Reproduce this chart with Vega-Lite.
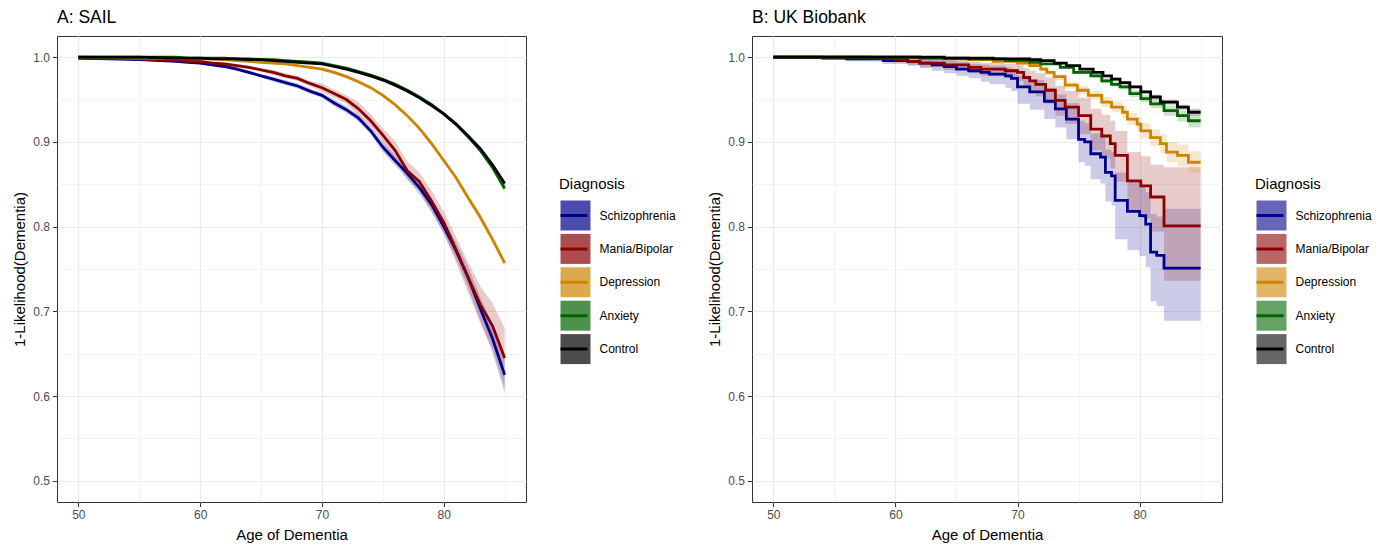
{
  "$schema": "https://vega.github.io/schema/vega-lite/v6.json",
  "background": "white",
  "padding": {"left": 12, "top": 8, "right": 0, "bottom": 0},
  "spacing": 30,
  "config": {
    "font": "Liberation Sans",
    "view": {"stroke": "#333333", "strokeWidth": 1},
    "axis": {"domain": false, "gridColor": "#ebebeb", "tickColor": "#333333", "tickSize": 4.5, "labelColor": "#4d4d4d", "labelFontSize": 12, "labelPadding": 3, "titleFontSize": 15, "titleFontWeight": "normal", "titleColor": "#000000", "titlePadding": 5},
    "axisX": {"titlePadding": 7},
    "legend": {"titleFontSize": 15, "titleFontWeight": "normal", "titleColor": "#000000", "labelFontSize": 12, "labelColor": "#000000", "labelOffset": 10.5, "rowPadding": 0.4, "titlePadding": 7, "padding": 0, "labelLimit": 300, "clipHeight": 33},
    "title": {"fontSize": 17.5, "fontWeight": "normal", "anchor": "start", "frame": "group", "offset": 10, "color": "#000000"}
  },
  "resolve": {"scale": {"x": "independent", "y": "independent", "fill": "independent", "stroke": "independent"}},
  "datasets": {
    "sail": [
      {"age":50,"dx":"Schizophrenia","surv":0.999,"lo":0.998,"hi":1.000},
      {"age":55,"dx":"Schizophrenia","surv":0.997,"lo":0.996,"hi":0.998},
      {"age":58,"dx":"Schizophrenia","surv":0.995,"lo":0.994,"hi":0.996},
      {"age":59,"dx":"Schizophrenia","surv":0.994,"lo":0.993,"hi":0.995},
      {"age":60,"dx":"Schizophrenia","surv":0.993,"lo":0.992,"hi":0.994},
      {"age":61,"dx":"Schizophrenia","surv":0.991,"lo":0.989,"hi":0.993},
      {"age":62,"dx":"Schizophrenia","surv":0.989,"lo":0.987,"hi":0.991},
      {"age":63,"dx":"Schizophrenia","surv":0.986,"lo":0.984,"hi":0.988},
      {"age":64,"dx":"Schizophrenia","surv":0.982,"lo":0.980,"hi":0.984},
      {"age":65,"dx":"Schizophrenia","surv":0.978,"lo":0.976,"hi":0.980},
      {"age":66,"dx":"Schizophrenia","surv":0.974,"lo":0.971,"hi":0.977},
      {"age":67,"dx":"Schizophrenia","surv":0.970,"lo":0.967,"hi":0.973},
      {"age":68,"dx":"Schizophrenia","surv":0.966,"lo":0.963,"hi":0.969},
      {"age":69,"dx":"Schizophrenia","surv":0.960,"lo":0.957,"hi":0.963},
      {"age":70,"dx":"Schizophrenia","surv":0.955,"lo":0.952,"hi":0.958},
      {"age":71,"dx":"Schizophrenia","surv":0.946,"lo":0.942,"hi":0.950},
      {"age":72,"dx":"Schizophrenia","surv":0.938,"lo":0.934,"hi":0.942},
      {"age":73,"dx":"Schizophrenia","surv":0.928,"lo":0.924,"hi":0.932},
      {"age":74,"dx":"Schizophrenia","surv":0.913,"lo":0.909,"hi":0.917},
      {"age":75,"dx":"Schizophrenia","surv":0.894,"lo":0.888,"hi":0.900},
      {"age":76,"dx":"Schizophrenia","surv":0.878,"lo":0.872,"hi":0.884},
      {"age":77,"dx":"Schizophrenia","surv":0.863,"lo":0.857,"hi":0.869},
      {"age":78,"dx":"Schizophrenia","surv":0.846,"lo":0.838,"hi":0.854},
      {"age":79,"dx":"Schizophrenia","surv":0.826,"lo":0.818,"hi":0.834},
      {"age":80,"dx":"Schizophrenia","surv":0.800,"lo":0.792,"hi":0.808},
      {"age":81,"dx":"Schizophrenia","surv":0.772,"lo":0.762,"hi":0.782},
      {"age":82,"dx":"Schizophrenia","surv":0.740,"lo":0.728,"hi":0.752},
      {"age":83,"dx":"Schizophrenia","surv":0.703,"lo":0.689,"hi":0.717},
      {"age":84,"dx":"Schizophrenia","surv":0.668,"lo":0.651,"hi":0.685},
      {"age":85,"dx":"Schizophrenia","surv":0.625,"lo":0.604,"hi":0.646},

      {"age":50,"dx":"Mania/Bipolar","surv":0.999,"lo":0.998,"hi":1.000},
      {"age":55,"dx":"Mania/Bipolar","surv":0.998,"lo":0.997,"hi":0.999},
      {"age":58,"dx":"Mania/Bipolar","surv":0.996,"lo":0.995,"hi":0.997},
      {"age":59,"dx":"Mania/Bipolar","surv":0.995,"lo":0.994,"hi":0.996},
      {"age":60,"dx":"Mania/Bipolar","surv":0.995,"lo":0.994,"hi":0.996},
      {"age":61,"dx":"Mania/Bipolar","surv":0.993,"lo":0.991,"hi":0.995},
      {"age":62,"dx":"Mania/Bipolar","surv":0.992,"lo":0.990,"hi":0.994},
      {"age":63,"dx":"Mania/Bipolar","surv":0.990,"lo":0.988,"hi":0.992},
      {"age":64,"dx":"Mania/Bipolar","surv":0.988,"lo":0.986,"hi":0.990},
      {"age":65,"dx":"Mania/Bipolar","surv":0.985,"lo":0.983,"hi":0.987},
      {"age":66,"dx":"Mania/Bipolar","surv":0.982,"lo":0.979,"hi":0.985},
      {"age":67,"dx":"Mania/Bipolar","surv":0.978,"lo":0.975,"hi":0.981},
      {"age":68,"dx":"Mania/Bipolar","surv":0.975,"lo":0.972,"hi":0.978},
      {"age":69,"dx":"Mania/Bipolar","surv":0.969,"lo":0.966,"hi":0.972},
      {"age":70,"dx":"Mania/Bipolar","surv":0.964,"lo":0.959,"hi":0.969},
      {"age":71,"dx":"Mania/Bipolar","surv":0.957,"lo":0.952,"hi":0.962},
      {"age":72,"dx":"Mania/Bipolar","surv":0.950,"lo":0.945,"hi":0.955},
      {"age":73,"dx":"Mania/Bipolar","surv":0.939,"lo":0.931,"hi":0.947},
      {"age":74,"dx":"Mania/Bipolar","surv":0.925,"lo":0.917,"hi":0.933},
      {"age":75,"dx":"Mania/Bipolar","surv":0.908,"lo":0.900,"hi":0.916},
      {"age":76,"dx":"Mania/Bipolar","surv":0.890,"lo":0.879,"hi":0.901},
      {"age":77,"dx":"Mania/Bipolar","surv":0.866,"lo":0.855,"hi":0.877},
      {"age":78,"dx":"Mania/Bipolar","surv":0.853,"lo":0.842,"hi":0.864},
      {"age":79,"dx":"Mania/Bipolar","surv":0.830,"lo":0.817,"hi":0.843},
      {"age":80,"dx":"Mania/Bipolar","surv":0.805,"lo":0.792,"hi":0.818},
      {"age":81,"dx":"Mania/Bipolar","surv":0.773,"lo":0.758,"hi":0.788},
      {"age":82,"dx":"Mania/Bipolar","surv":0.740,"lo":0.722,"hi":0.758},
      {"age":83,"dx":"Mania/Bipolar","surv":0.708,"lo":0.686,"hi":0.730},
      {"age":84,"dx":"Mania/Bipolar","surv":0.683,"lo":0.656,"hi":0.710},
      {"age":85,"dx":"Mania/Bipolar","surv":0.645,"lo":0.610,"hi":0.680},

      {"age":50,"dx":"Depression","surv":1.000,"lo":0.999,"hi":1.000},
      {"age":55,"dx":"Depression","surv":0.999,"lo":0.998,"hi":1.000},
      {"age":58,"dx":"Depression","surv":0.999,"lo":0.998,"hi":1.000},
      {"age":59,"dx":"Depression","surv":0.998,"lo":0.997,"hi":0.999},
      {"age":60,"dx":"Depression","surv":0.998,"lo":0.997,"hi":0.999},
      {"age":61,"dx":"Depression","surv":0.998,"lo":0.997,"hi":0.999},
      {"age":62,"dx":"Depression","surv":0.997,"lo":0.996,"hi":0.998},
      {"age":63,"dx":"Depression","surv":0.996,"lo":0.995,"hi":0.997},
      {"age":64,"dx":"Depression","surv":0.995,"lo":0.994,"hi":0.996},
      {"age":65,"dx":"Depression","surv":0.994,"lo":0.993,"hi":0.995},
      {"age":66,"dx":"Depression","surv":0.993,"lo":0.992,"hi":0.994},
      {"age":67,"dx":"Depression","surv":0.992,"lo":0.991,"hi":0.993},
      {"age":68,"dx":"Depression","surv":0.990,"lo":0.989,"hi":0.991},
      {"age":69,"dx":"Depression","surv":0.988,"lo":0.987,"hi":0.989},
      {"age":70,"dx":"Depression","surv":0.986,"lo":0.984,"hi":0.988},
      {"age":71,"dx":"Depression","surv":0.982,"lo":0.980,"hi":0.984},
      {"age":72,"dx":"Depression","surv":0.977,"lo":0.975,"hi":0.979},
      {"age":73,"dx":"Depression","surv":0.971,"lo":0.969,"hi":0.973},
      {"age":74,"dx":"Depression","surv":0.964,"lo":0.962,"hi":0.966},
      {"age":75,"dx":"Depression","surv":0.955,"lo":0.953,"hi":0.957},
      {"age":76,"dx":"Depression","surv":0.944,"lo":0.942,"hi":0.946},
      {"age":77,"dx":"Depression","surv":0.931,"lo":0.929,"hi":0.933},
      {"age":78,"dx":"Depression","surv":0.916,"lo":0.914,"hi":0.918},
      {"age":79,"dx":"Depression","surv":0.898,"lo":0.895,"hi":0.901},
      {"age":80,"dx":"Depression","surv":0.878,"lo":0.875,"hi":0.881},
      {"age":81,"dx":"Depression","surv":0.858,"lo":0.855,"hi":0.861},
      {"age":82,"dx":"Depression","surv":0.834,"lo":0.831,"hi":0.837},
      {"age":83,"dx":"Depression","surv":0.811,"lo":0.807,"hi":0.815},
      {"age":84,"dx":"Depression","surv":0.785,"lo":0.781,"hi":0.789},
      {"age":85,"dx":"Depression","surv":0.757,"lo":0.753,"hi":0.761},

      {"age":50,"dx":"Anxiety","surv":1.000,"lo":0.999,"hi":1.000},
      {"age":55,"dx":"Anxiety","surv":1.000,"lo":0.999,"hi":1.000},
      {"age":58,"dx":"Anxiety","surv":1.000,"lo":0.999,"hi":1.000},
      {"age":59,"dx":"Anxiety","surv":0.999,"lo":0.998,"hi":1.000},
      {"age":60,"dx":"Anxiety","surv":0.999,"lo":0.998,"hi":1.000},
      {"age":61,"dx":"Anxiety","surv":0.999,"lo":0.998,"hi":1.000},
      {"age":62,"dx":"Anxiety","surv":0.999,"lo":0.998,"hi":1.000},
      {"age":63,"dx":"Anxiety","surv":0.998,"lo":0.997,"hi":0.999},
      {"age":64,"dx":"Anxiety","surv":0.998,"lo":0.997,"hi":0.999},
      {"age":65,"dx":"Anxiety","surv":0.997,"lo":0.996,"hi":0.998},
      {"age":66,"dx":"Anxiety","surv":0.997,"lo":0.996,"hi":0.998},
      {"age":67,"dx":"Anxiety","surv":0.996,"lo":0.995,"hi":0.997},
      {"age":68,"dx":"Anxiety","surv":0.995,"lo":0.994,"hi":0.996},
      {"age":69,"dx":"Anxiety","surv":0.994,"lo":0.993,"hi":0.995},
      {"age":70,"dx":"Anxiety","surv":0.993,"lo":0.992,"hi":0.994},
      {"age":71,"dx":"Anxiety","surv":0.990,"lo":0.989,"hi":0.991},
      {"age":72,"dx":"Anxiety","surv":0.987,"lo":0.986,"hi":0.988},
      {"age":73,"dx":"Anxiety","surv":0.983,"lo":0.982,"hi":0.984},
      {"age":74,"dx":"Anxiety","surv":0.979,"lo":0.978,"hi":0.980},
      {"age":75,"dx":"Anxiety","surv":0.974,"lo":0.973,"hi":0.975},
      {"age":76,"dx":"Anxiety","surv":0.968,"lo":0.966,"hi":0.970},
      {"age":77,"dx":"Anxiety","surv":0.961,"lo":0.959,"hi":0.963},
      {"age":78,"dx":"Anxiety","surv":0.953,"lo":0.951,"hi":0.955},
      {"age":79,"dx":"Anxiety","surv":0.944,"lo":0.942,"hi":0.946},
      {"age":80,"dx":"Anxiety","surv":0.933,"lo":0.931,"hi":0.935},
      {"age":81,"dx":"Anxiety","surv":0.921,"lo":0.918,"hi":0.924},
      {"age":82,"dx":"Anxiety","surv":0.906,"lo":0.903,"hi":0.909},
      {"age":83,"dx":"Anxiety","surv":0.890,"lo":0.887,"hi":0.893},
      {"age":84,"dx":"Anxiety","surv":0.870,"lo":0.866,"hi":0.874},
      {"age":85,"dx":"Anxiety","surv":0.845,"lo":0.840,"hi":0.850},

      {"age":50,"dx":"Control","surv":1.000,"lo":0.999,"hi":1.000},
      {"age":55,"dx":"Control","surv":1.000,"lo":0.999,"hi":1.000},
      {"age":58,"dx":"Control","surv":0.999,"lo":0.998,"hi":1.000},
      {"age":59,"dx":"Control","surv":0.999,"lo":0.998,"hi":1.000},
      {"age":60,"dx":"Control","surv":0.999,"lo":0.998,"hi":1.000},
      {"age":61,"dx":"Control","surv":0.998,"lo":0.997,"hi":0.999},
      {"age":62,"dx":"Control","surv":0.998,"lo":0.997,"hi":0.999},
      {"age":63,"dx":"Control","surv":0.998,"lo":0.997,"hi":0.999},
      {"age":64,"dx":"Control","surv":0.997,"lo":0.996,"hi":0.998},
      {"age":65,"dx":"Control","surv":0.997,"lo":0.996,"hi":0.998},
      {"age":66,"dx":"Control","surv":0.996,"lo":0.995,"hi":0.997},
      {"age":67,"dx":"Control","surv":0.995,"lo":0.994,"hi":0.996},
      {"age":68,"dx":"Control","surv":0.994,"lo":0.993,"hi":0.995},
      {"age":69,"dx":"Control","surv":0.993,"lo":0.992,"hi":0.994},
      {"age":70,"dx":"Control","surv":0.992,"lo":0.991,"hi":0.993},
      {"age":71,"dx":"Control","surv":0.989,"lo":0.988,"hi":0.990},
      {"age":72,"dx":"Control","surv":0.986,"lo":0.985,"hi":0.987},
      {"age":73,"dx":"Control","surv":0.982,"lo":0.981,"hi":0.983},
      {"age":74,"dx":"Control","surv":0.978,"lo":0.977,"hi":0.979},
      {"age":75,"dx":"Control","surv":0.973,"lo":0.972,"hi":0.974},
      {"age":76,"dx":"Control","surv":0.967,"lo":0.966,"hi":0.968},
      {"age":77,"dx":"Control","surv":0.960,"lo":0.959,"hi":0.961},
      {"age":78,"dx":"Control","surv":0.952,"lo":0.951,"hi":0.953},
      {"age":79,"dx":"Control","surv":0.943,"lo":0.942,"hi":0.944},
      {"age":80,"dx":"Control","surv":0.933,"lo":0.932,"hi":0.934},
      {"age":81,"dx":"Control","surv":0.921,"lo":0.919,"hi":0.923},
      {"age":82,"dx":"Control","surv":0.907,"lo":0.905,"hi":0.909},
      {"age":83,"dx":"Control","surv":0.892,"lo":0.890,"hi":0.894},
      {"age":84,"dx":"Control","surv":0.873,"lo":0.871,"hi":0.875},
      {"age":85,"dx":"Control","surv":0.851,"lo":0.848,"hi":0.854}
    ],
    "ukb": [
      {"age":50,"dx":"Schizophrenia","surv":1.000,"lo":1.000,"hi":1.000},
      {"age":54,"dx":"Schizophrenia","surv":0.999,"lo":0.997,"hi":1.000},
      {"age":56,"dx":"Schizophrenia","surv":0.998,"lo":0.995,"hi":1.000},
      {"age":59,"dx":"Schizophrenia","surv":0.996,"lo":0.992,"hi":1.000},
      {"age":61,"dx":"Schizophrenia","surv":0.995,"lo":0.990,"hi":0.999},
      {"age":62,"dx":"Schizophrenia","surv":0.993,"lo":0.987,"hi":0.998},
      {"age":63,"dx":"Schizophrenia","surv":0.991,"lo":0.984,"hi":0.997},
      {"age":64,"dx":"Schizophrenia","surv":0.989,"lo":0.981,"hi":0.996},
      {"age":65,"dx":"Schizophrenia","surv":0.986,"lo":0.978,"hi":0.994},
      {"age":66,"dx":"Schizophrenia","surv":0.984,"lo":0.975,"hi":0.992},
      {"age":67,"dx":"Schizophrenia","surv":0.982,"lo":0.971,"hi":0.991},
      {"age":67.7,"dx":"Schizophrenia","surv":0.980,"lo":0.968,"hi":0.990},
      {"age":69,"dx":"Schizophrenia","surv":0.978,"lo":0.964,"hi":0.988},
      {"age":69.5,"dx":"Schizophrenia","surv":0.975,"lo":0.960,"hi":0.986},
      {"age":70,"dx":"Schizophrenia","surv":0.965,"lo":0.945,"hi":0.978},
      {"age":71,"dx":"Schizophrenia","surv":0.959,"lo":0.938,"hi":0.973},
      {"age":72.2,"dx":"Schizophrenia","surv":0.948,"lo":0.927,"hi":0.964},
      {"age":73.1,"dx":"Schizophrenia","surv":0.939,"lo":0.917,"hi":0.956},
      {"age":74,"dx":"Schizophrenia","surv":0.927,"lo":0.903,"hi":0.946},
      {"age":75,"dx":"Schizophrenia","surv":0.903,"lo":0.876,"hi":0.925},
      {"age":75.5,"dx":"Schizophrenia","surv":0.900,"lo":0.872,"hi":0.922},
      {"age":76,"dx":"Schizophrenia","surv":0.886,"lo":0.856,"hi":0.910},
      {"age":76.8,"dx":"Schizophrenia","surv":0.882,"lo":0.851,"hi":0.907},
      {"age":77.2,"dx":"Schizophrenia","surv":0.864,"lo":0.830,"hi":0.891},
      {"age":77.7,"dx":"Schizophrenia","surv":0.860,"lo":0.825,"hi":0.888},
      {"age":78,"dx":"Schizophrenia","surv":0.831,"lo":0.785,"hi":0.864},
      {"age":79,"dx":"Schizophrenia","surv":0.818,"lo":0.772,"hi":0.853},
      {"age":80,"dx":"Schizophrenia","surv":0.813,"lo":0.765,"hi":0.849},
      {"age":80.5,"dx":"Schizophrenia","surv":0.803,"lo":0.752,"hi":0.841},
      {"age":80.9,"dx":"Schizophrenia","surv":0.770,"lo":0.712,"hi":0.815},
      {"age":81.4,"dx":"Schizophrenia","surv":0.766,"lo":0.706,"hi":0.812},
      {"age":82,"dx":"Schizophrenia","surv":0.751,"lo":0.689,"hi":0.821},
      {"age":85,"dx":"Schizophrenia","surv":0.751,"lo":0.689,"hi":0.821},

      {"age":50,"dx":"Mania/Bipolar","surv":1.000,"lo":1.000,"hi":1.000},
      {"age":58,"dx":"Mania/Bipolar","surv":0.999,"lo":0.997,"hi":1.000},
      {"age":60,"dx":"Mania/Bipolar","surv":0.997,"lo":0.994,"hi":1.000},
      {"age":61,"dx":"Mania/Bipolar","surv":0.995,"lo":0.991,"hi":0.999},
      {"age":62,"dx":"Mania/Bipolar","surv":0.993,"lo":0.988,"hi":0.998},
      {"age":64,"dx":"Mania/Bipolar","surv":0.991,"lo":0.985,"hi":0.997},
      {"age":66,"dx":"Mania/Bipolar","surv":0.988,"lo":0.981,"hi":0.995},
      {"age":67,"dx":"Mania/Bipolar","surv":0.986,"lo":0.978,"hi":0.993},
      {"age":69,"dx":"Mania/Bipolar","surv":0.984,"lo":0.975,"hi":0.992},
      {"age":70,"dx":"Mania/Bipolar","surv":0.982,"lo":0.972,"hi":0.991},
      {"age":70.5,"dx":"Mania/Bipolar","surv":0.976,"lo":0.964,"hi":0.987},
      {"age":71,"dx":"Mania/Bipolar","surv":0.972,"lo":0.959,"hi":0.984},
      {"age":71.5,"dx":"Mania/Bipolar","surv":0.968,"lo":0.954,"hi":0.981},
      {"age":72.3,"dx":"Mania/Bipolar","surv":0.961,"lo":0.945,"hi":0.976},
      {"age":73.1,"dx":"Mania/Bipolar","surv":0.949,"lo":0.931,"hi":0.966},
      {"age":73.9,"dx":"Mania/Bipolar","surv":0.941,"lo":0.921,"hi":0.960},
      {"age":75,"dx":"Mania/Bipolar","surv":0.931,"lo":0.909,"hi":0.952},
      {"age":76,"dx":"Mania/Bipolar","surv":0.915,"lo":0.890,"hi":0.939},
      {"age":76.9,"dx":"Mania/Bipolar","surv":0.907,"lo":0.880,"hi":0.932},
      {"age":77.6,"dx":"Mania/Bipolar","surv":0.898,"lo":0.869,"hi":0.925},
      {"age":78,"dx":"Mania/Bipolar","surv":0.884,"lo":0.853,"hi":0.913},
      {"age":79,"dx":"Mania/Bipolar","surv":0.854,"lo":0.818,"hi":0.888},
      {"age":80.1,"dx":"Mania/Bipolar","surv":0.848,"lo":0.810,"hi":0.883},
      {"age":80.9,"dx":"Mania/Bipolar","surv":0.835,"lo":0.794,"hi":0.873},
      {"age":82,"dx":"Mania/Bipolar","surv":0.801,"lo":0.736,"hi":0.870},
      {"age":85,"dx":"Mania/Bipolar","surv":0.801,"lo":0.736,"hi":0.870},

      {"age":50,"dx":"Depression","surv":1.000,"lo":1.000,"hi":1.000},
      {"age":62,"dx":"Depression","surv":0.999,"lo":0.998,"hi":1.000},
      {"age":64,"dx":"Depression","surv":0.998,"lo":0.997,"hi":0.999},
      {"age":66,"dx":"Depression","surv":0.997,"lo":0.996,"hi":0.998},
      {"age":68,"dx":"Depression","surv":0.995,"lo":0.994,"hi":0.997},
      {"age":70,"dx":"Depression","surv":0.993,"lo":0.991,"hi":0.995},
      {"age":71,"dx":"Depression","surv":0.990,"lo":0.988,"hi":0.992},
      {"age":71.9,"dx":"Depression","surv":0.986,"lo":0.983,"hi":0.989},
      {"age":72.4,"dx":"Depression","surv":0.982,"lo":0.979,"hi":0.985},
      {"age":73,"dx":"Depression","surv":0.977,"lo":0.973,"hi":0.980},
      {"age":73.9,"dx":"Depression","surv":0.967,"lo":0.963,"hi":0.971},
      {"age":74.9,"dx":"Depression","surv":0.961,"lo":0.956,"hi":0.966},
      {"age":75.8,"dx":"Depression","surv":0.955,"lo":0.950,"hi":0.960},
      {"age":76.9,"dx":"Depression","surv":0.947,"lo":0.941,"hi":0.953},
      {"age":77.7,"dx":"Depression","surv":0.941,"lo":0.935,"hi":0.947},
      {"age":78.6,"dx":"Depression","surv":0.935,"lo":0.928,"hi":0.942},
      {"age":79,"dx":"Depression","surv":0.927,"lo":0.920,"hi":0.934},
      {"age":79.8,"dx":"Depression","surv":0.921,"lo":0.913,"hi":0.929},
      {"age":80.1,"dx":"Depression","surv":0.913,"lo":0.904,"hi":0.922},
      {"age":80.9,"dx":"Depression","surv":0.905,"lo":0.895,"hi":0.915},
      {"age":81.7,"dx":"Depression","surv":0.898,"lo":0.887,"hi":0.909},
      {"age":82.2,"dx":"Depression","surv":0.888,"lo":0.876,"hi":0.900},
      {"age":83.1,"dx":"Depression","surv":0.884,"lo":0.871,"hi":0.897},
      {"age":84,"dx":"Depression","surv":0.876,"lo":0.864,"hi":0.889},
      {"age":85,"dx":"Depression","surv":0.876,"lo":0.864,"hi":0.889},

      {"age":50,"dx":"Anxiety","surv":1.000,"lo":1.000,"hi":1.000},
      {"age":62,"dx":"Anxiety","surv":0.999,"lo":0.999,"hi":1.000},
      {"age":66,"dx":"Anxiety","surv":0.998,"lo":0.997,"hi":0.999},
      {"age":69,"dx":"Anxiety","surv":0.996,"lo":0.995,"hi":0.997},
      {"age":71,"dx":"Anxiety","surv":0.994,"lo":0.993,"hi":0.995},
      {"age":71.9,"dx":"Anxiety","surv":0.992,"lo":0.991,"hi":0.993},
      {"age":73.5,"dx":"Anxiety","surv":0.988,"lo":0.986,"hi":0.990},
      {"age":74.6,"dx":"Anxiety","surv":0.982,"lo":0.980,"hi":0.984},
      {"age":76,"dx":"Anxiety","surv":0.978,"lo":0.976,"hi":0.980},
      {"age":76.9,"dx":"Anxiety","surv":0.972,"lo":0.969,"hi":0.975},
      {"age":77.7,"dx":"Anxiety","surv":0.968,"lo":0.965,"hi":0.971},
      {"age":78.4,"dx":"Anxiety","surv":0.965,"lo":0.962,"hi":0.968},
      {"age":79.2,"dx":"Anxiety","surv":0.957,"lo":0.953,"hi":0.961},
      {"age":80.1,"dx":"Anxiety","surv":0.951,"lo":0.947,"hi":0.955},
      {"age":80.9,"dx":"Anxiety","surv":0.945,"lo":0.940,"hi":0.950},
      {"age":82,"dx":"Anxiety","surv":0.937,"lo":0.931,"hi":0.943},
      {"age":83.1,"dx":"Anxiety","surv":0.931,"lo":0.924,"hi":0.937},
      {"age":84,"dx":"Anxiety","surv":0.925,"lo":0.917,"hi":0.932},
      {"age":85,"dx":"Anxiety","surv":0.925,"lo":0.917,"hi":0.932},

      {"age":50,"dx":"Control","surv":1.000,"lo":1.000,"hi":1.000},
      {"age":64,"dx":"Control","surv":0.999,"lo":0.999,"hi":1.000},
      {"age":68,"dx":"Control","surv":0.998,"lo":0.997,"hi":0.999},
      {"age":71,"dx":"Control","surv":0.997,"lo":0.996,"hi":0.998},
      {"age":71.9,"dx":"Control","surv":0.996,"lo":0.995,"hi":0.997},
      {"age":73,"dx":"Control","surv":0.993,"lo":0.992,"hi":0.994},
      {"age":74,"dx":"Control","surv":0.990,"lo":0.989,"hi":0.991},
      {"age":75.1,"dx":"Control","surv":0.986,"lo":0.985,"hi":0.987},
      {"age":76.2,"dx":"Control","surv":0.982,"lo":0.981,"hi":0.983},
      {"age":77,"dx":"Control","surv":0.978,"lo":0.977,"hi":0.979},
      {"age":77.7,"dx":"Control","surv":0.974,"lo":0.972,"hi":0.976},
      {"age":78.4,"dx":"Control","surv":0.970,"lo":0.968,"hi":0.972},
      {"age":79.2,"dx":"Control","surv":0.965,"lo":0.963,"hi":0.967},
      {"age":80.1,"dx":"Control","surv":0.959,"lo":0.957,"hi":0.961},
      {"age":80.9,"dx":"Control","surv":0.953,"lo":0.950,"hi":0.956},
      {"age":81.7,"dx":"Control","surv":0.947,"lo":0.944,"hi":0.950},
      {"age":83.1,"dx":"Control","surv":0.941,"lo":0.938,"hi":0.944},
      {"age":84,"dx":"Control","surv":0.935,"lo":0.931,"hi":0.939},
      {"age":85,"dx":"Control","surv":0.935,"lo":0.931,"hi":0.939}
    ]
  },
  "hconcat": [
    {
      "width": 469,
      "height": 466,
      "title": {"text": "A: SAIL"},
      "data": {"name": "sail"},
      "encoding": {
        "x": {"field": "age", "type": "quantitative", "scale": {"domain": [48.25, 86.75], "nice": false, "zero": false},
          "axis": {"title": "Age of Dementia", "values": [50,55,60,65,70,75,80,85], "labelExpr": "datum.value % 10 == 0 ? datum.label : ''",
            "tickOpacity": {"condition": {"test": "datum.value % 10 != 0", "value": 0}, "value": 1},
            "gridWidth": {"condition": {"test": "datum.value % 10 != 0", "value": 0.6}, "value": 1.2}}}
      },
      "layer": [
        {
          "mark": {"type": "area", "fillOpacity": 0.2},
          "encoding": {
            "y": {"field": "lo", "type": "quantitative", "scale": {"domain": [0.475, 1.025], "nice": false, "zero": false},
              "axis": {"title": "1-Likelihood(Dementia)", "values": [0.5,0.55,0.6,0.65,0.7,0.75,0.8,0.85,0.9,0.95,1.0],
                "labelExpr": "abs(datum.value*10 - round(datum.value*10)) < 0.001 ? format(datum.value, '.1f') : ''",
                "tickOpacity": {"condition": {"test": "abs(datum.value*10 - round(datum.value*10)) > 0.001", "value": 0}, "value": 1},
                "gridWidth": {"condition": {"test": "abs(datum.value*10 - round(datum.value*10)) > 0.001", "value": 0.6}, "value": 1.2}}},
            "y2": {"field": "hi"},
            "fill": {"field": "dx", "type": "nominal",
              "scale": {"domain": ["Schizophrenia","Mania/Bipolar","Depression","Anxiety","Control"], "range": ["#00008b","#8b0000","#cd8500","#006400","#000000"]},
              "legend": {"title": " ", "orient": "none", "legendX": 502, "legendY": 141, "symbolType": "square", "symbolSize": 900, "symbolStrokeWidth": 3, "symbolStrokeColor": "transparent", "symbolOpacity": 0.7, "labelExpr": "''", "zindex": 1}}
          }
        },
        {
          "mark": {"type": "line", "strokeWidth": 2.8},
          "encoding": {
            "y": {"field": "surv", "type": "quantitative", "scale": {"domain": [0.475, 1.025], "nice": false, "zero": false},
              "axis": {"title": "1-Likelihood(Dementia)", "values": [0.5,0.55,0.6,0.65,0.7,0.75,0.8,0.85,0.9,0.95,1.0],
                "labelExpr": "abs(datum.value*10 - round(datum.value*10)) < 0.001 ? format(datum.value, '.1f') : ''",
                "tickOpacity": {"condition": {"test": "abs(datum.value*10 - round(datum.value*10)) > 0.001", "value": 0}, "value": 1},
                "gridWidth": {"condition": {"test": "abs(datum.value*10 - round(datum.value*10)) > 0.001", "value": 0.6}, "value": 1.2}}},
            "stroke": {"field": "dx", "type": "nominal", "sort": ["Schizophrenia","Mania/Bipolar","Depression","Anxiety","Control"],
              "scale": {"range": ["#00008b","#8b0000","#cd8500","#006400","#000000"]},
              "legend": {"title": "Diagnosis", "orient": "none", "legendX": 502, "legendY": 141, "symbolType": "stroke", "symbolSize": 729, "symbolStrokeWidth": 3, "zindex": 2}}
          }
        }
      ]
    },
    {
      "width": 470,
      "height": 466,
      "title": {"text": "B: UK Biobank"},
      "data": {"name": "ukb"},
      "encoding": {
        "x": {"field": "age", "type": "quantitative", "scale": {"domain": [48.25, 86.75], "nice": false, "zero": false},
          "axis": {"title": "Age of Dementia", "values": [50,55,60,65,70,75,80,85], "labelExpr": "datum.value % 10 == 0 ? datum.label : ''",
            "tickOpacity": {"condition": {"test": "datum.value % 10 != 0", "value": 0}, "value": 1},
            "gridWidth": {"condition": {"test": "datum.value % 10 != 0", "value": 0.6}, "value": 1.2}}}
      },
      "layer": [
        {
          "mark": {"type": "area", "fillOpacity": 0.2, "interpolate": "step-after"},
          "encoding": {
            "y": {"field": "lo", "type": "quantitative", "scale": {"domain": [0.475, 1.025], "nice": false, "zero": false},
              "axis": {"title": "1-Likelihood(Dementia)", "values": [0.5,0.55,0.6,0.65,0.7,0.75,0.8,0.85,0.9,0.95,1.0],
                "labelExpr": "abs(datum.value*10 - round(datum.value*10)) < 0.001 ? format(datum.value, '.1f') : ''",
                "tickOpacity": {"condition": {"test": "abs(datum.value*10 - round(datum.value*10)) > 0.001", "value": 0}, "value": 1},
                "gridWidth": {"condition": {"test": "abs(datum.value*10 - round(datum.value*10)) > 0.001", "value": 0.6}, "value": 1.2}}},
            "y2": {"field": "hi"},
            "fill": {"field": "dx", "type": "nominal",
              "scale": {"domain": ["Schizophrenia","Mania/Bipolar","Depression","Anxiety","Control"], "range": ["#00008b","#8b0000","#cd8500","#006400","#000000"]},
              "legend": {"title": " ", "orient": "none", "legendX": 503, "legendY": 141, "symbolType": "square", "symbolSize": 900, "symbolStrokeWidth": 3, "symbolStrokeColor": "transparent", "symbolOpacity": 0.6, "labelExpr": "''", "zindex": 1}}
          }
        },
        {
          "mark": {"type": "line", "strokeWidth": 2.8, "interpolate": "step-after"},
          "encoding": {
            "y": {"field": "surv", "type": "quantitative", "scale": {"domain": [0.475, 1.025], "nice": false, "zero": false},
              "axis": {"title": "1-Likelihood(Dementia)", "values": [0.5,0.55,0.6,0.65,0.7,0.75,0.8,0.85,0.9,0.95,1.0],
                "labelExpr": "abs(datum.value*10 - round(datum.value*10)) < 0.001 ? format(datum.value, '.1f') : ''",
                "tickOpacity": {"condition": {"test": "abs(datum.value*10 - round(datum.value*10)) > 0.001", "value": 0}, "value": 1},
                "gridWidth": {"condition": {"test": "abs(datum.value*10 - round(datum.value*10)) > 0.001", "value": 0.6}, "value": 1.2}}},
            "stroke": {"field": "dx", "type": "nominal", "sort": ["Schizophrenia","Mania/Bipolar","Depression","Anxiety","Control"],
              "scale": {"range": ["#00008b","#8b0000","#cd8500","#006400","#000000"]},
              "legend": {"title": "Diagnosis", "orient": "none", "legendX": 503, "legendY": 141, "symbolType": "stroke", "symbolSize": 729, "symbolStrokeWidth": 3, "zindex": 2}}
          }
        }
      ]
    }
  ]
}
